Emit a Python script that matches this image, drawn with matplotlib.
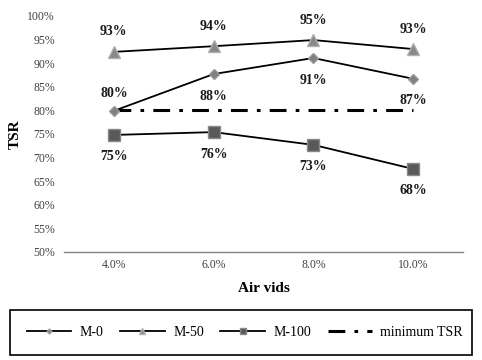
import matplotlib
matplotlib.use("Agg")
import matplotlib.pyplot as plt
from matplotlib.patches import Rectangle
from matplotlib.ticker import PercentFormatter

plt.rcParams['font.family'] = ['Liberation Serif', 'DejaVu Serif']

categories = ["4.0%", "6.0%", "8.0%", "10.0%"]
m0 = [0.799, 0.877, 0.911, 0.867]
m50 = [0.924, 0.936, 0.949, 0.930]
m100 = [0.748, 0.754, 0.727, 0.676]
min_tsr = [0.80, 0.80, 0.80, 0.80]
m0_labels = ["80%", "88%", "91%", "87%"]
m50_labels = ["93%", "94%", "95%", "93%"]
m100_labels = ["75%", "76%", "73%", "68%"]

fig = plt.figure(figsize=(4.82, 3.60), dpi=100)
ax = fig.add_axes([64/482, 1-252/360, (463-64)/482, (252-16)/360])

x = list(range(len(categories)))
l0, = ax.plot(x, m0, color='black', lw=1.3, marker='D', ms=5, mfc='#808080', mec='#9a9a9a', label='M-0', zorder=3)
l50, = ax.plot(x, m50, color='black', lw=1.3, marker='^', ms=8, mfc='#888888', mec='#b0b0b0', label='M-50', zorder=3)
l100, = ax.plot(x, m100, color='black', lw=1.3, marker='s', ms=8, mfc='#595959', mec='#8a8a8a', label='M-100', zorder=3)
lmin, = ax.plot(x, min_tsr, color='black', lw=2.2, dashes=(5.5, 3, 1.2, 3), label='minimum TSR', zorder=2)

ax.set_xlim(-0.5, len(categories) - 0.5)
ax.set_ylim(0.5, 1.0)
ax.set_yticks([0.5 + 0.05*i for i in range(11)])
ax.yaxis.set_major_formatter(PercentFormatter(1.0, decimals=0))
ax.set_xticks(x)
ax.set_xticklabels(categories)
ax.tick_params(axis='both', length=0, labelsize=8.5, labelcolor='#404040')
ax.tick_params(axis='y', pad=6.5)
ax.tick_params(axis='x', pad=5)
for s in ['top', 'right', 'left']:
    ax.spines[s].set_visible(False)
ax.spines['bottom'].set_color('#808080')
ax.spines['bottom'].set_linewidth(1.0)

ax.set_ylabel('TSR', fontsize=11, fontweight='bold')
ax.yaxis.set_label_coords((22-64)/399, 0.5)
ax.set_xlabel('Air vids', fontsize=11, fontweight='bold', labelpad=8)

lab_kw = dict(ha='center', va='center', fontsize=10, fontweight='bold', color='#1a1a1a')
for i in x:
    ax.annotate(m50_labels[i], (i, m50[i]), xytext=(0, 20), textcoords='offset pixels', **lab_kw)
    off = 17 if i == 0 else -22
    ax.annotate(m0_labels[i], (i, m0[i]), xytext=(0, off), textcoords='offset pixels', **lab_kw)
    ax.annotate(m100_labels[i], (i, m100[i]), xytext=(0, -22), textcoords='offset pixels', **lab_kw)

# legend box
rect = Rectangle((10/482, 1-355/360), (472-10)/482, 45/360, transform=fig.transFigure,
                 fill=False, edgecolor='black', lw=1.2)
fig.patches.append(rect)
fig.legend(handles=[l0, l50, l100, lmin], loc='center', ncol=4, frameon=False,
           bbox_to_anchor=(245/482, 1-332.5/360), fontsize=10, handlelength=3.2,
           columnspacing=1.2, handletextpad=0.6, markerscale=0.5)

fig.savefig('out.png', dpi=100)
